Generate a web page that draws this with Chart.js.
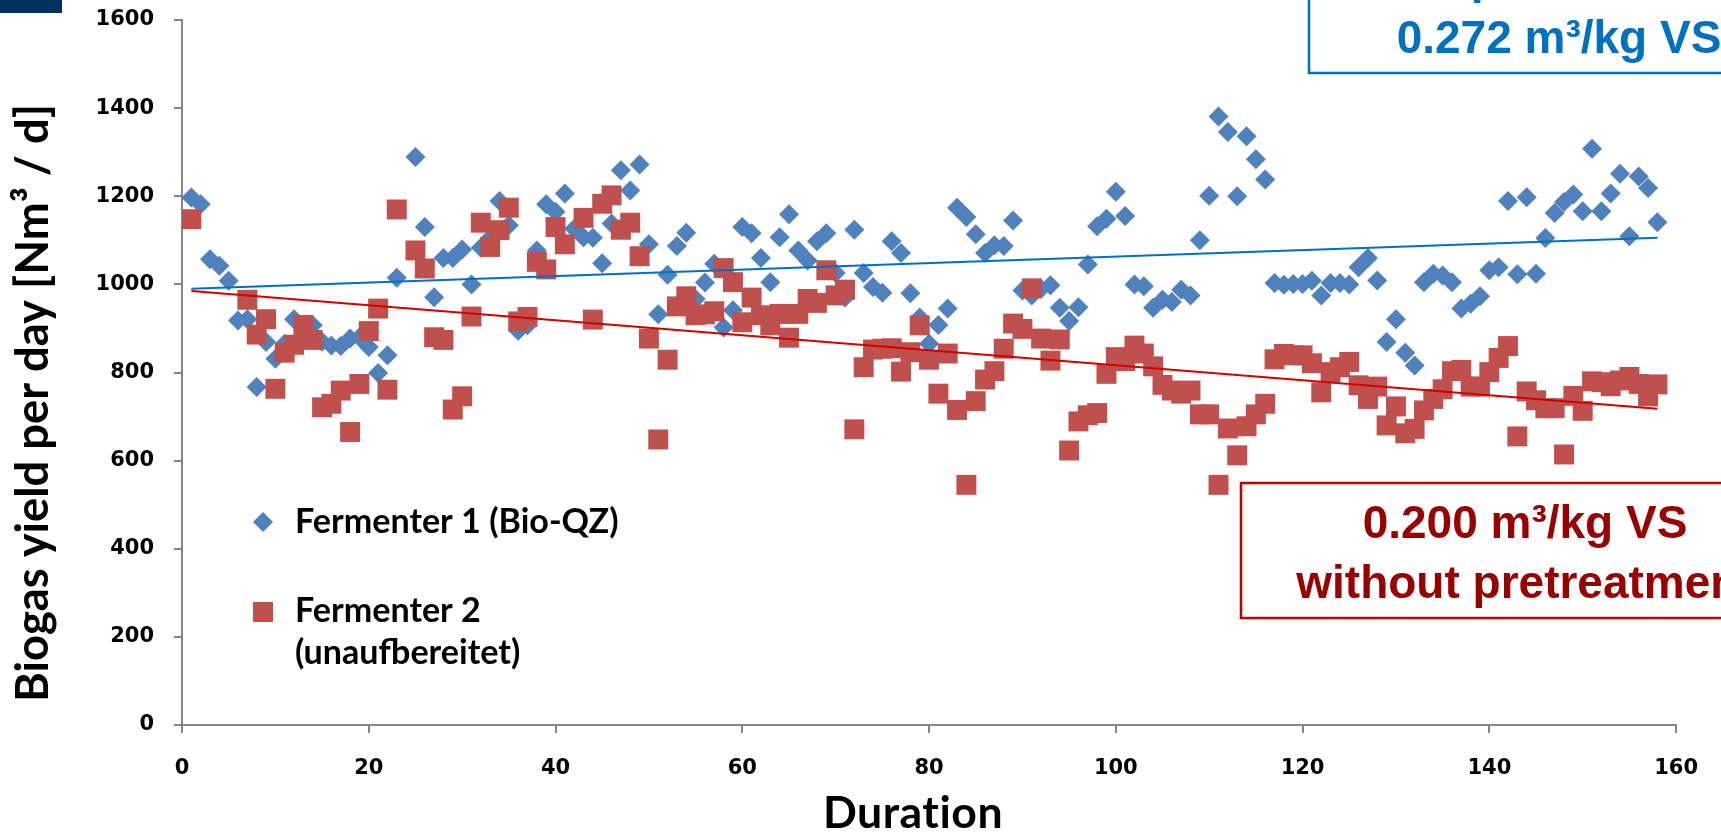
<!DOCTYPE html>
<html>
<head>
<meta charset="utf-8">
<title>Biogas yield per day</title>
<script src="https://cdn.jsdelivr.net/npm/chart.js"></script>
<style>
  html, body { margin: 0; padding: 0; background: #fff; }
  canvas { display: block; }
</style>
</head>
<body>
<canvas id="yieldChart" width="1721" height="833"></canvas>
<script>
// days of the trial (x values)
const days = [];
for (let d = 1; d <= 158; d++) days.push(d);

// Fermenter 1 (Bio-QZ), Nm3/d, one value per day
const fermenter1 = [
  1197, 1182, 1057, 1042, 1008, 918, 921, 767, 869, 831,
  865, 921, 895, 907, 870, 861, 860, 877, 880, 858,
  799, 839, 1015, null, 1289, 1130, 971, 1060, 1060, 1079,
  1000, 1083, 1105, 1189, 1134, 895, 907, 1077, 1182, 1165,
  1206, 1126, 1107, 1106, 1048, 1138, 1259, 1213, 1272, 1091,
  932, 1022, 1087, 1117, 967, 1004, 1047, 902, 941, 1130,
  1116, 1060, 1005, 1107, 1159, 1077, 1054, 1098, 1116, 1026,
  970, 1124, 1026, 994, 981, 1098, 1071, 980, 925, 865,
  908, 945, 1174, 1153, 1114, 1071, 1089, 1087, 1145, 986,
  975, 990, 998, 947, 917, 948, 1045, 1132, 1149, 1210,
  1155, 1000, 996, 947, 965, 960, 988, 975, 1100, 1201,
  1381, 1346, 1200, 1336, 1284, 1238, 1003, 999, 1001, 1001,
  1008, 975, 1003, 1003, 1000, 1039, 1060, 1009, 869, 921,
  845, 816, 1005, 1024, 1020, 1005, 945, 956, 973, 1032,
  1039, 1189, 1023, 1198, 1024, 1105, 1162, 1187, 1204, 1166,
  1308, 1166, 1206, 1251, 1109, 1245, 1219, 1141
];

// Fermenter 2 (unaufbereitet), Nm3/d
const fermenter2 = [
  1148, null, null, null, null, null, 965, 886, 921, 763,
  845, 863, 908, 874, 721, 729, 759, 665, 774, 894,
  945, 761, 1170, null, 1077, 1036, 880, 874, 716, 746,
  927, 1140, 1085, 1123, 1174, 916, 926, 1051, 1034, 1130,
  1091, null, 1151, 920, 1183, 1202, 1124, 1140, 1064, 877,
  648, 829, 950, 973, 930, 932, 939, 1037, 1005, 914,
  970, 930, 907, 933, 879, 933, 967, 958, 1032, 975,
  988, 671, 812, 852, 854, 855, 802, 846, 907, 829,
  752, 843, 715, 545, 735, 784, 803, 854, 911, 899,
  991, 877, 827, 875, 623, 689, 703, 708, 797, 835,
  826, 861, 843, 814, 772, 759, 752, 759, 705, 705,
  545, 673, 612, 678, 705, 729, 830, 842, 839, 839,
  821, 755, 801, 812, 824, 771, 740, 768, 680, 723,
  662, 672, 714, 740, 762, 803, 806, 768, 768, 801,
  833, 860, 655, 757, 737, 719, 719, 614, 747, 713,
  780, 778, 769, 782, 790, 774, 746, 773
];

// linear trend lines (start / end)
const trendDays = [1, 158];
const trend1 = [990, 1106];
const trend2 = [985, 718];

const xTickValues = [0, 20, 40, 60, 80, 100, 120, 140, 160];
const yTickValues = [0, 200, 400, 600, 800, 1000, 1200, 1400, 1600];

const toPoints = (xs, ys) => xs.map((x, i) => ({ x: x, y: ys[i] })).filter(p => p.y !== null);

function fitFont(ctx, text, family, target) {
  ctx.font = 'bold 100px ' + family;
  const w = ctx.measureText(text).width;
  return 'bold ' + (100 * target / w).toFixed(1) + 'px ' + family;
}

// titles, legend and the two text boxes
const overlay = {
  id: 'overlay',
  afterDraw(chart) {
    const ctx = chart.ctx;
    ctx.save();

    ctx.fillStyle = '#00305e';
    ctx.fillRect(0, 0, 62, 13);

    // y axis title
    ctx.fillStyle = '#000';
    const yTitle = 'Biogas yield per day [Nm³ / d]';
    ctx.font = fitFont(ctx, yTitle, 'Lato', 598);
    ctx.translate(48, 403);
    ctx.rotate(-Math.PI / 2);
    ctx.textAlign = 'center';
    ctx.textBaseline = 'alphabetic';
    ctx.fillText(yTitle, 0, 0);
    ctx.setTransform(1, 0, 0, 1, 0, 0);

    // x axis title (letter spacing keeps the "ti" unligated)
    ctx.letterSpacing = '0.5px';
    ctx.font = fitFont(ctx, 'Duration', 'Lato', 178);
    ctx.fillText('Duration', 913, 828);
    ctx.letterSpacing = '0px';

    // legend
    ctx.textAlign = 'left';
    ctx.font = fitFont(ctx, 'Fermenter 1 (Bio-QZ)', 'Lato', 324);
    ctx.fillText('Fermenter 1 (Bio-QZ)', 295, 533);
    ctx.fillText('Fermenter 2', 295, 622);
    ctx.fillText('(unaufbereitet)', 295, 664);
    ctx.fillStyle = '#4F81BD';
    ctx.beginPath();
    ctx.moveTo(253, 522); ctx.lineTo(263, 512); ctx.lineTo(273, 522); ctx.lineTo(263, 532);
    ctx.closePath();
    ctx.fill();
    ctx.fillStyle = '#C0504D';
    ctx.fillRect(253, 602, 20, 20);

    // blue box (with pretreatment)
    ctx.fillStyle = '#fff';
    ctx.fillRect(1309, -5, 420, 78);
    ctx.strokeStyle = '#0070C0';
    ctx.lineWidth = 2.5;
    ctx.strokeRect(1309, -5, 440, 78);
    ctx.fillStyle = '#0070C0';
    ctx.textAlign = 'center';
    ctx.font = 'bold 46px "Liberation Sans"';
    ctx.fillText('with pretreatment', 1559, -7);
    ctx.fillText('0.272 m³/kg VS', 1559, 53);

    // red box (without pretreatment)
    ctx.fillStyle = '#fff';
    ctx.fillRect(1241, 483, 500, 135);
    ctx.strokeStyle = '#C00000';
    ctx.strokeRect(1241, 483, 520, 135);
    ctx.fillStyle = '#990000';
    ctx.fillText('0.200 m³/kg VS', 1525, 538);
    ctx.fillText('without pretreatment', 1525, 598);

    ctx.restore();
  }
};

const tickFont = { family: 'DejaVu Sans', weight: 'bold', size: 21 };

new Chart(document.getElementById('yieldChart'), {
  type: 'scatter',
  data: {
    datasets: [
      {
        label: 'Fermenter 1 (Bio-QZ)',
        data: toPoints(days, fermenter1),
        pointStyle: 'rectRot',
        pointRadius: 10,
        pointBorderWidth: 0,
        backgroundColor: '#4F81BD',
        borderColor: '#4F81BD',
        order: 3
      },
      {
        label: 'Fermenter 2 (unaufbereitet)',
        data: toPoints(days, fermenter2),
        pointStyle: 'rect',
        pointRadius: 14.1,
        pointBorderWidth: 0,
        backgroundColor: '#C0504D',
        borderColor: '#C0504D',
        order: 2
      },
      {
        label: 'Trend 1',
        data: toPoints(trendDays, trend1),
        showLine: true,
        pointRadius: 0,
        borderColor: '#0070C0',
        borderWidth: 2,
        order: 1
      },
      {
        label: 'Trend 2',
        data: toPoints(trendDays, trend2),
        showLine: true,
        pointRadius: 0,
        borderColor: '#D00000',
        borderWidth: 2,
        order: 0
      }
    ]
  },
  options: {
    responsive: false,
    animation: false,
    devicePixelRatio: 1,
    events: [],
    layout: { padding: { top: 20, right: 40, left: 0, bottom: 0 } },
    plugins: { legend: { display: false }, tooltip: { enabled: false } },
    scales: {
      x: {
        type: 'linear',
        min: 0,
        max: 160,
        afterBuildTicks: s => { s.ticks = xTickValues.map(v => ({ value: v })); },
        afterFit: s => { s.height = 108; },
        ticks: { font: tickFont, color: '#000', padding: 23, callback: v => String(v) },
        grid: { drawOnChartArea: false, tickLength: 8, color: '#868686', lineWidth: 2 },
        border: { color: '#868686', width: 2 }
      },
      y: {
        min: 0,
        max: 1600,
        afterBuildTicks: s => { s.ticks = yTickValues.map(v => ({ value: v })); },
        afterFit: s => { s.width = 182; s.paddingTop = 0; s.paddingBottom = 0; },
        ticks: { font: tickFont, color: '#000', padding: 20, callback: v => String(v) },
        grid: { drawOnChartArea: false, tickLength: 8, color: '#868686', lineWidth: 2 },
        border: { color: '#868686', width: 2 }
      }
    }
  },
  plugins: [overlay]
});
</script>
</body>
</html>
